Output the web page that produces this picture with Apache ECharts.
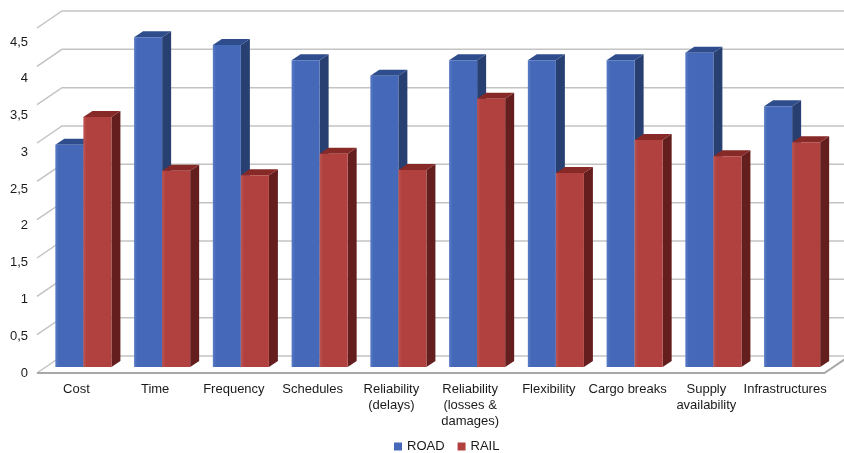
<!DOCTYPE html>
<html><head><meta charset="utf-8">
<script src="https://cdn.jsdelivr.net/npm/echarts@6/dist/echarts.min.js"></script>
<style>html,body{margin:0;padding:0;background:#fff}#c{width:844px;height:453px}</style>
</head><body><div id="c"></div>
<script>
const categories = ['Cost','Time','Frequency','Schedules','Reliability\n(delays)','Reliability\n(losses &\ndamages)','Flexibility','Cargo breaks','Supply\navailability','Infrastructures'];
const roadValues = [2.9,4.3,4.2,4.0,3.8,4.0,4.0,4.0,4.1,3.4];
const railValues = [3.26,2.56,2.5,2.78,2.57,3.5,2.53,2.96,2.75,2.93];
const yTicks = [0,0.5,1,1.5,2,2.5,3,3.5,4,4.5];

const DEPTH_X = 25, DEPTH_Y = 17;
const BAR_SHIFT_X = 7, BAR_SHIFT_Y = 6;
const SIDE_X = 9, SIDE_Y = 6;
const BAR_FRAC = 0.356;
const FONT = "'Liberation Sans', Arial, sans-serif";

function wallItem(params, api) {
  const cs = params.coordSys;
  const v = api.value(1);
  const y = api.coord([0, v])[1];
  const x0 = cs.x, x1 = cs.x + cs.width;
  const children = [{type:'polyline', shape:{points:[[x0,y],[x0+DEPTH_X,y-DEPTH_Y],[x1+DEPTH_X+40,y-DEPTH_Y]]}, style:{stroke:'#c3c3c3', lineWidth:1.5, fill:null}}];
  if (v === 0) children.push({type:'polyline', shape:{points:[[x0,y],[x1,y],[x1+DEPTH_X,y-DEPTH_Y]]}, style:{stroke:'#a8a8a8', lineWidth:2, fill:null}});
  return {type:'group', children};
}
function barRenderer(side, colors) {
  return function(params, api) {
    const i = api.value(0), v = api.value(1);
    const c = api.coord([i, v]);
    const b = api.coord([i, 0]);
    const bw = api.size([1,0])[0]*BAR_FRAC;
    const cx = c[0] + BAR_SHIFT_X;
    const xl = side < 0 ? cx - bw : cx;
    const xr = xl + bw;
    const top = c[1] - BAR_SHIFT_Y, bot = b[1] - BAR_SHIFT_Y;
    return {type:'group', children:[
      {type:'polygon', shape:{points:[[xr,top],[xr+SIDE_X,top-SIDE_Y],[xr+SIDE_X,bot-SIDE_Y],[xr,bot]]}, style:{fill:colors.side}},
      {type:'polygon', shape:{points:[[xl,top],[xr,top],[xr+SIDE_X,top-SIDE_Y],[xl+SIDE_X,top-SIDE_Y]]}, style:{fill:colors.top}},
      {type:'rect', shape:{x:xl,y:top,width:bw,height:bot-top}, style:{fill:new echarts.graphic.LinearGradient(0,0,1,0,[{offset:0,color:colors.light},{offset:0.12,color:colors.front},{offset:1,color:colors.front}])}}
    ]};
  };
}
const blue = {front:'#4569b8', light:'#5a7cc6', side:'#283f72', top:'#2f4d8c'};
const red = {front:'#b0413f', light:'#bd5553', side:'#641e1e', top:'#862927'};

const chart = echarts.init(document.getElementById('c'), null, {renderer:'canvas'});
chart.setOption({
  animation:false,
  backgroundColor:'#fff',
  textStyle:{fontFamily:FONT},
  legend:{data:['ROAD','RAIL'], left:389, top:435, icon:'rect', itemWidth:8, itemHeight:8, itemGap:13,
    textStyle:{fontSize:13, color:'#1a1a1a', fontFamily:FONT}},
  grid:[
    {left:37, right:19.5, top:28, bottom:80},
    {left:37, right:19.5, top:42, bottom:80}
  ],
  xAxis:[
    {type:'category', data:categories, gridIndex:0, axisLine:{show:false}, axisTick:{show:false},
     axisLabel:{interval:0, fontSize:13, color:'#1a1a1a', lineHeight:16, margin:8, fontFamily:FONT}},
    {type:'category', data:categories, gridIndex:1, show:false}
  ],
  yAxis:[
    {type:'value', gridIndex:0, min:0, max:4.5, interval:0.5, axisLabel:{show:false}, splitLine:{show:false}, axisLine:{show:false}, axisTick:{show:false}},
    {type:'value', gridIndex:1, min:0, max:4.5, interval:0.5, splitLine:{show:false}, axisLine:{show:false}, axisTick:{show:false},
     axisLabel:{fontSize:13, color:'#1a1a1a', margin:9, fontFamily:FONT, formatter:v=>String(v).replace('.',',')}}
  ],
  series:[
    {type:'custom', name:'walls', xAxisIndex:0, yAxisIndex:0, z:1, silent:true,
     data:yTicks.map(v=>[0,v]), renderItem:wallItem},
    {type:'custom', name:'ROAD', xAxisIndex:0, yAxisIndex:0, z:2, itemStyle:{color:blue.front},
     data:roadValues.map((v,i)=>[i,v]), renderItem:barRenderer(-1, blue)},
    {type:'custom', name:'RAIL', xAxisIndex:0, yAxisIndex:0, z:3, itemStyle:{color:red.front},
     data:railValues.map((v,i)=>[i,v]), renderItem:barRenderer(1, red)}
  ]
});
</script></body></html>
